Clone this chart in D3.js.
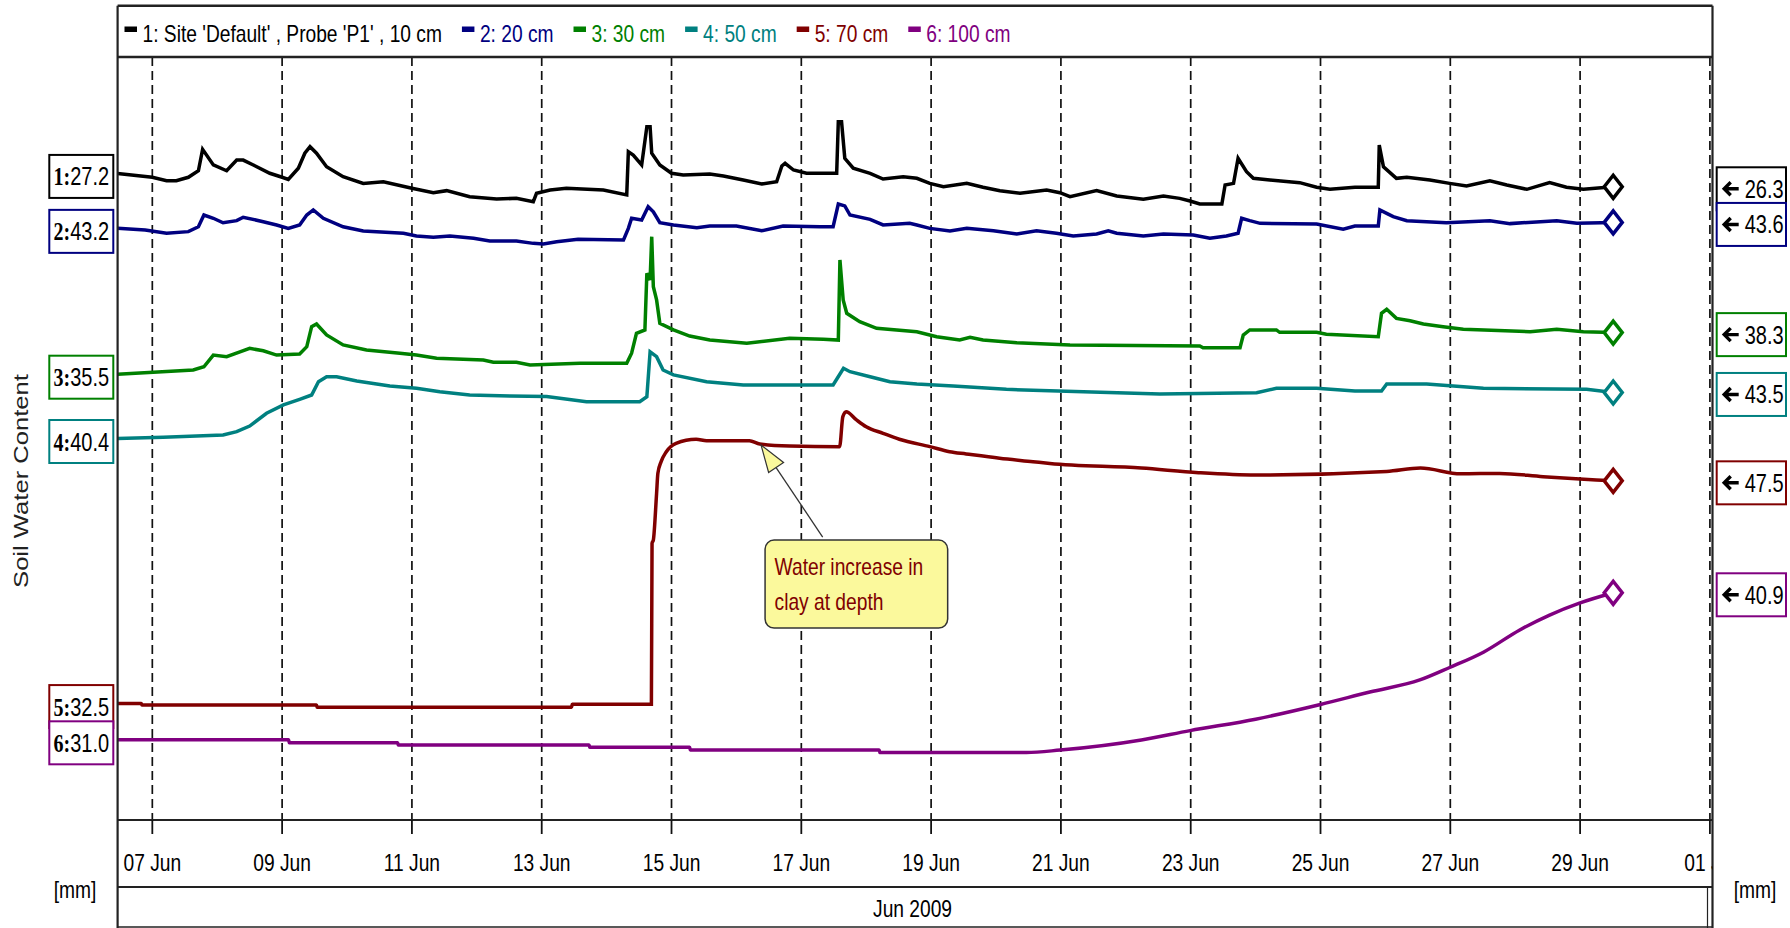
<!DOCTYPE html>
<html><head><meta charset="utf-8">
<script src="https://cdn.jsdelivr.net/npm/d3@7"></script>
<style>html,body{margin:0;padding:0;background:#fff;overflow:hidden}</style>
</head><body><svg id="chart" width="1790" height="928"></svg>
<script>
// ---------------- DATA ----------------
const seriesNames = ["1: Site 'Default' , Probe 'P1' , 10 cm", "2: 20 cm", "3: 30 cm", "4: 50 cm", "5: 70 cm", "6: 100 cm"];
const seriesColors = ["#000000", "#000080", "#008000", "#008080", "#800000", "#800080"];
// each probe depth is drawn on its own offset axis (value at top of plot), same span
const axisTop = [35.04, 54.74, 56.86, 66.09, 76.04, 76.98];
const axisSpan = 51.38;
// [day of June 2009, soil water content]
const probe10cm = [[6.465,27.2],[7.00,26.94],[7.22,26.71],[7.37,26.71],[7.555,26.94],[7.71,27.38],[7.775,28.82],[7.94,27.77],[8.145,27.38],[8.30,28.10],[8.40,28.10],[8.556,27.77],[8.81,27.21],[9.00,26.94],[9.095,26.80],[9.25,27.55],[9.35,28.56],[9.43,29.00],[9.53,28.56],[9.685,27.65],[9.94,26.98],[10.25,26.53],[10.56,26.64],[11.00,26.20],[11.33,25.90],[11.535,26.04],[11.89,25.63],[12.305,25.48],[12.61,25.52],[12.87,25.30],[12.92,25.86],[13.13,26.08],[13.38,26.20],[13.95,26.08],[14.31,25.75],[14.335,28.66],[14.41,28.44],[14.54,27.77],[14.62,30.35],[14.67,30.35],[14.695,28.56],[14.82,27.77],[15.00,27.21],[15.18,27.09],[15.59,27.16],[15.80,27.03],[16.105,26.76],[16.39,26.49],[16.62,26.64],[16.70,27.70],[16.75,27.88],[16.88,27.43],[17.08,27.21],[17.545,27.21],[17.57,30.68],[17.62,30.68],[17.67,28.22],[17.80,27.55],[18.06,27.21],[18.26,26.82],[18.57,26.98],[18.78,26.87],[18.98,26.53],[19.19,26.31],[19.55,26.53],[19.80,26.27],[20.06,26.04],[20.37,25.86],[20.78,26.08],[20.985,25.90],[21.14,25.63],[21.55,26.04],[21.86,25.68],[22.27,25.46],[22.58,25.68],[22.83,25.52],[22.99,25.34],[23.14,25.14],[23.48,25.14],[23.53,26.42],[23.66,26.53],[23.73,28.22],[23.86,27.32],[23.965,26.87],[24.22,26.76],[24.68,26.58],[24.94,26.27],[25.145,26.13],[25.53,26.27],[25.89,26.27],[25.905,29.11],[25.97,27.65],[26.17,26.87],[26.33,26.94],[26.685,26.76],[26.99,26.53],[27.25,26.35],[27.61,26.71],[27.87,26.42],[28.18,26.13],[28.53,26.58],[28.79,26.27],[29.05,26.13],[29.51,26.3]];
const probe20cm = [[6.465,43.2],[6.89,43.09],[7.22,42.87],[7.555,42.98],[7.71,43.31],[7.795,44.10],[7.94,43.88],[8.09,43.58],[8.30,43.72],[8.40,43.95],[8.71,43.65],[8.915,43.43],[9.095,43.20],[9.27,43.43],[9.38,44.10],[9.48,44.44],[9.635,43.88],[9.94,43.31],[10.25,43.02],[10.87,42.87],[11.07,42.69],[11.33,42.60],[11.585,42.69],[11.95,42.53],[12.20,42.35],[12.61,42.35],[12.87,42.19],[13.025,42.15],[13.23,42.30],[13.56,42.46],[14.26,42.42],[14.335,43.20],[14.385,43.88],[14.54,43.76],[14.64,44.66],[14.72,44.32],[14.82,43.58],[15.03,43.43],[15.39,43.25],[15.59,43.36],[16.00,43.36],[16.39,43.04],[16.72,43.36],[17.29,43.31],[17.49,43.31],[17.57,44.84],[17.67,44.71],[17.75,44.10],[18.06,43.81],[18.26,43.43],[18.67,43.54],[18.78,43.43],[18.98,43.20],[19.29,43.02],[19.55,43.20],[19.96,43.04],[20.32,42.82],[20.625,43.04],[20.93,42.87],[21.19,42.69],[21.55,42.82],[21.73,43.04],[21.86,42.87],[22.27,42.69],[22.58,42.82],[23.04,42.75],[23.295,42.53],[23.55,42.69],[23.73,42.87],[23.785,43.88],[23.91,43.72],[24.07,43.54],[24.94,43.49],[25.35,43.14],[25.53,43.36],[25.89,43.36],[25.915,44.44],[26.02,44.21],[26.12,43.99],[26.33,43.72],[26.94,43.58],[27.61,43.72],[27.92,43.52],[28.64,43.72],[28.95,43.55],[29.51,43.6]];
const probe30cm = [[6.465,35.5],[7.63,35.78],[7.795,36.00],[7.94,36.79],[8.145,36.68],[8.35,37.01],[8.50,37.24],[8.71,37.08],[8.915,36.79],[9.27,36.86],[9.38,37.35],[9.455,38.70],[9.53,38.88],[9.685,38.14],[9.94,37.47],[10.30,37.13],[10.815,36.91],[11.07,36.79],[11.38,36.57],[12.10,36.46],[12.255,36.30],[12.61,36.30],[12.82,36.12],[13.59,36.23],[14.31,36.23],[14.385,36.91],[14.46,38.25],[14.59,38.48],[14.62,42.29],[14.67,41.84],[14.695,44.76],[14.72,41.39],[14.77,40.50],[14.82,38.93],[15.03,38.48],[15.28,38.07],[15.59,37.80],[16.16,37.58],[16.82,37.92],[17.34,37.85],[17.57,37.80],[17.595,43.19],[17.645,40.50],[17.70,39.60],[17.90,39.04],[18.16,38.59],[18.78,38.36],[19.085,38.02],[19.44,37.80],[19.60,37.98],[19.80,37.80],[20.32,37.62],[21.14,37.47],[23.14,37.40],[23.19,37.28],[23.76,37.28],[23.81,38.14],[23.91,38.48],[24.32,38.48],[24.37,38.32],[24.94,38.32],[25.09,38.19],[25.89,38.02],[25.94,39.60],[26.02,39.87],[26.17,39.26],[26.38,39.10],[26.585,38.88],[26.89,38.70],[27.20,38.52],[28.23,38.36],[28.64,38.52],[29.05,38.36],[29.51,38.3]];
const probe50cm = [[6.465,40.4],[7.17,40.48],[8.09,40.64],[8.30,40.86],[8.50,41.24],[8.76,42.10],[9.02,42.66],[9.27,43.04],[9.455,43.33],[9.56,44.22],[9.685,44.56],[9.84,44.56],[10.15,44.27],[10.66,43.94],[11.07,43.78],[11.43,43.55],[11.89,43.33],[12.51,43.26],[13.075,43.22],[13.69,42.88],[14.51,42.88],[14.62,43.21],[14.67,46.24],[14.77,45.91],[14.87,45.01],[15.03,44.68],[15.54,44.22],[16.105,44.00],[17.49,44.00],[17.65,45.13],[17.75,44.90],[18.06,44.56],[18.365,44.22],[18.78,44.07],[19.34,43.94],[20.16,43.71],[21.345,43.55],[22.525,43.40],[24.015,43.48],[24.32,43.78],[24.94,43.78],[25.53,43.60],[25.94,43.60],[26.02,44.07],[26.635,44.07],[27.51,43.78],[29.10,43.71],[29.51,43.5]];
const probe70cm = [[6.465,32.5],[6.83,32.5],[6.84,32.40],[9.53,32.40],[9.54,32.25],[13.46,32.25],[13.47,32.45],[14.69,32.45],[14.70,43.29],[14.72,43.51],[14.77,46.66],[14.79,48.01],[14.84,48.79],[14.92,49.46],[15.07,50.03],[15.38,50.30],[15.54,50.20],[16.20,50.20],[16.36,49.98],[16.82,49.84],[17.59,49.80],[17.64,51.82],[17.69,52.15],[17.85,51.60],[18.00,51.14],[18.26,50.70],[18.51,50.30],[18.98,49.80],[19.285,49.46],[19.54,49.31],[20.055,49.02],[20.57,48.79],[20.83,48.67],[22.24,48.36],[23.12,48.05],[24.00,47.89],[26.02,48.13],[26.54,48.36],[27.16,47.97],[27.76,48.00],[28.43,47.78],[29.25,47.56],[29.51,47.5]];
const probe100cm = [[6.465,31.0],[9.10,31.0],[9.11,30.80],[10.78,30.80],[10.79,30.65],[13.73,30.65],[13.74,30.50],[15.28,30.50],[15.29,30.31],[18.20,30.31],[18.21,30.14],[20.47,30.14],[20.99,30.31],[22.24,30.99],[22.99,31.62],[24.00,32.39],[25.00,33.38],[25.76,34.22],[26.53,35.03],[26.99,35.87],[27.51,36.9],[28.07,38.4],[28.53,39.4],[28.99,40.2],[29.51,40.9]];
const seriesData = [probe10cm, probe20cm, probe30cm, probe50cm, probe70cm, probe100cm];
const smoothSeries = [false, false, false, false, true, true];

const xDomainDays = [6.465, 31.04];
const xTickEveryDays = 2;
const periodLabel = "Jun 2009";
const yTitle = "Soil Water Content";
const unitLabel = "[mm]";
const note = {series: 4, day: 16.38, lines: ["Water increase in", "clay at depth"]};

// ---------------- LAYOUT ----------------
const frame = {left: 117.6, right: 1712.5, top: 5.7, plotTop: 57, axisY: 820, bandY: 887, bottom: 927};
const FONT = "'Liberation Sans', Arial, sans-serif";
const SERIF = "'Liberation Serif', 'Times New Roman', serif";
const SX = 0.8;     // horizontal condensing of the original bitmap text
const FS = 24;
const LW = 3.5;

const toDate = d => new Date(Date.UTC(2009, 5, 1) + (d - 1) * 864e5);
const svg = d3.select("#chart");

const x = d3.scaleUtc().domain(xDomainDays.map(toDate)).range([frame.left, frame.right]);
const yScales = axisTop.map(t => d3.scaleLinear().domain([t - axisSpan, t]).range([frame.axisY, frame.plotTop]));

function ctext(parent, px, py, str, o = {}) {
  const g = parent.append("g").attr("transform", `translate(${px},${py}) scale(${o.sx ?? SX},1)`);
  const t = g.append("text")
    .attr("text-anchor", o.anchor || "start")
    .attr("font-family", o.family || FONT)
    .attr("font-size", o.size || FS)
    .attr("font-weight", o.weight || "normal")
    .attr("fill", o.fill || "#000")
    .text(str);
  return t;
}

const defs = svg.append("defs");
defs.append("clipPath").attr("id", "plotClip").append("rect")
  .attr("x", frame.left).attr("y", frame.plotTop)
  .attr("width", frame.right - frame.left).attr("height", frame.axisY - frame.plotTop);
defs.append("clipPath").attr("id", "tickClip").append("rect")
  .attr("x", frame.left).attr("y", frame.axisY)
  .attr("width", frame.right - frame.left).attr("height", frame.bandY - frame.axisY);

// ---------------- GRID ----------------
const ticks = x.ticks(d3.utcDay.every(xTickEveryDays));
svg.append("g").selectAll("line").data(ticks).join("line")
  .attr("x1", d => x(d)).attr("x2", d => x(d))
  .attr("y1", frame.plotTop).attr("y2", frame.axisY)
  .attr("stroke", "#111").attr("stroke-width", 1.7).attr("stroke-dasharray", "9,5");

// ---------------- SERIES ----------------
const gLines = svg.append("g").attr("clip-path", "url(#plotClip)");
seriesData.forEach((data, i) => {
  const line = d3.line()
    .x(d => x(toDate(d[0])))
    .y(d => yScales[i](d[1]))
    .curve(smoothSeries[i] ? d3.curveMonotoneX : d3.curveLinear);
  gLines.append("path").datum(data)
    .attr("fill", "none").attr("stroke", seriesColors[i])
    .attr("stroke-width", LW).attr("stroke-linejoin", "miter").attr("d", line);
});
// end diamonds
seriesData.forEach((data, i) => {
  const last = data[data.length - 1];
  const cx = x(toDate(last[0])), cy = yScales[i](last[1]);
  svg.append("path")
    .attr("d", `M${cx - 9},${cy} L${cx},${cy - 11.5} L${cx + 9},${cy} L${cx},${cy + 11.5} Z`)
    .attr("fill", "#fff").attr("stroke", seriesColors[i]).attr("stroke-width", LW);
});

// ---------------- FRAME ----------------
const fr = svg.append("g").attr("stroke", "#222").attr("fill", "none");
fr.append("line").attr("x1", frame.left).attr("x2", frame.right).attr("y1", frame.top).attr("y2", frame.top).attr("stroke-width", 2.5);
fr.append("line").attr("x1", frame.left).attr("x2", frame.right).attr("y1", frame.plotTop).attr("y2", frame.plotTop).attr("stroke-width", 2.5);
fr.append("line").attr("x1", frame.left).attr("x2", frame.right).attr("y1", frame.axisY).attr("y2", frame.axisY).attr("stroke-width", 2.2);
fr.append("line").attr("x1", frame.left).attr("x2", frame.right).attr("y1", frame.bandY).attr("y2", frame.bandY).attr("stroke-width", 2.2);
fr.append("line").attr("x1", frame.left).attr("x2", frame.right).attr("y1", frame.bottom).attr("y2", frame.bottom).attr("stroke-width", 1.5);
fr.append("line").attr("x1", frame.left).attr("x2", frame.left).attr("y1", frame.top).attr("y2", 928).attr("stroke-width", 2.2);
fr.append("line").attr("x1", frame.right).attr("x2", frame.right).attr("y1", frame.top).attr("y2", 928).attr("stroke-width", 2.2);
fr.append("line").attr("x1", frame.right - 5).attr("x2", frame.right - 5).attr("y1", frame.bandY).attr("y2", 928).attr("stroke-width", 1.2);

// ---------------- X AXIS ----------------
svg.append("g").selectAll("line").data(ticks).join("line")
  .attr("x1", d => x(d)).attr("x2", d => x(d))
  .attr("y1", frame.axisY).attr("y2", frame.axisY + 14)
  .attr("stroke", "#111").attr("stroke-width", 1.8);
const tickFmt = d3.utcFormat("%d %b");
const gTickLabels = svg.append("g").attr("clip-path", "url(#tickClip)");
ticks.forEach(d => ctext(gTickLabels, x(d), 871, tickFmt(d), {anchor: "middle"}));
ctext(svg, (frame.left + frame.right - 5) / 2, 917, periodLabel, {anchor: "middle"});
ctext(svg, 75, 898, unitLabel, {anchor: "middle"});
ctext(svg, 1755, 898, unitLabel, {anchor: "middle"});

// ---------------- Y TITLE ----------------
svg.append("g").attr("transform", "translate(21,481) rotate(-90) scale(1.22,1)")
  .append("text").attr("text-anchor", "middle").attr("dominant-baseline", "central")
  .attr("font-family", FONT).attr("font-size", 21).attr("fill", "#222").text(yTitle);

// ---------------- LEGEND ----------------
let lx = 124.5;
seriesNames.forEach((name, i) => {
  svg.append("rect").attr("x", lx).attr("y", 26.5).attr("width", 12.5).attr("height", 5.5).attr("fill", seriesColors[i]);
  const t = ctext(svg, lx + 18, 41.5, name, {fill: seriesColors[i]});
  lx += 18 + t.node().getComputedTextLength() * SX + 20;
});

// ---------------- START / END VALUE LABELS ----------------
const fmt = d3.format(".1f");
seriesData.forEach((data, i) => {
  const first = data[0], last = data[data.length - 1];
  const y0 = yScales[i](first[1]) + 3;
  const bx = frame.left - 68.3, bw = 64;
  svg.append("rect").attr("x", bx).attr("y", y0 - 21.5).attr("width", bw).attr("height", 43)
    .attr("fill", "#fff").attr("stroke", seriesColors[i]).attr("stroke-width", 2);
  const g = svg.append("g").attr("transform", `translate(${bx + bw / 2},${y0 + 9}) scale(${SX},1)`);
  const t = g.append("text").attr("text-anchor", "middle").attr("font-size", FS + 1).attr("fill", "#000");
  t.append("tspan").attr("font-family", SERIF).attr("font-weight", "bold").text(`${i + 1}:`);
  t.append("tspan").attr("font-family", FONT).text(fmt(first[1]));

  const y1 = yScales[i](last[1]) + 2;
  const rx = frame.right + 4.2, rw = 69.3;
  svg.append("rect").attr("x", rx).attr("y", y1 - 21.5).attr("width", rw).attr("height", 43)
    .attr("fill", "#fff").attr("stroke", seriesColors[i]).attr("stroke-width", 2);
  svg.append("path")
    .attr("d", `M${rx + 22},${y1} L${rx + 7.5},${y1} M${rx + 14},${y1 - 6.5} L${rx + 7.5},${y1} L${rx + 14},${y1 + 6.5}`)
    .attr("fill", "none").attr("stroke", "#000").attr("stroke-width", 3.4);
  ctext(svg, rx + 28, y1 + 9, fmt(last[1]), {size: FS + 1});
});

// ---------------- ANNOTATION ----------------
{
  const data = seriesData[note.series];
  const tipDate = toDate(note.day);
  const bis = d3.bisector(d => d[0]).left;
  const k = bis(data, note.day);
  const a = data[k - 1], b = data[k];
  const v = a[1] + (b[1] - a[1]) * (note.day - a[0]) / (b[0] - a[0]);
  const tx = x(tipDate), ty = yScales[note.series](v) + 1;
  const boxX = tx + 4, boxY = ty + 95, boxW = 182.6, boxH = 88;
  const ax = tx + 61.6, ay = boxY - 3;
  const dx = ax - tx, dy = ay - ty, len = Math.hypot(dx, dy);
  const ux = dx / len, uy = dy / len, px = -uy, py = ux;
  const bxm = tx + ux * 27, bym = ty + uy * 27;
  svg.append("line").attr("x1", bxm).attr("y1", bym).attr("x2", ax).attr("y2", ay)
    .attr("stroke", "#333").attr("stroke-width", 1.3);
  svg.append("path")
    .attr("d", `M${tx},${ty} L${bxm + px * 9},${bym + py * 9} L${bxm - px * 9},${bym - py * 9} Z`)
    .attr("fill", "#fbf99c").attr("stroke", "#333").attr("stroke-width", 1.2);
  svg.append("rect").attr("x", boxX).attr("y", boxY).attr("width", boxW).attr("height", boxH)
    .attr("rx", 9).attr("fill", "#fbf99c").attr("stroke", "#333").attr("stroke-width", 1.5);
  note.lines.forEach((ln, j) => ctext(svg, boxX + 9.5, boxY + 35 + j * 35, ln, {fill: "#800000"}));
}
</script></body></html>
